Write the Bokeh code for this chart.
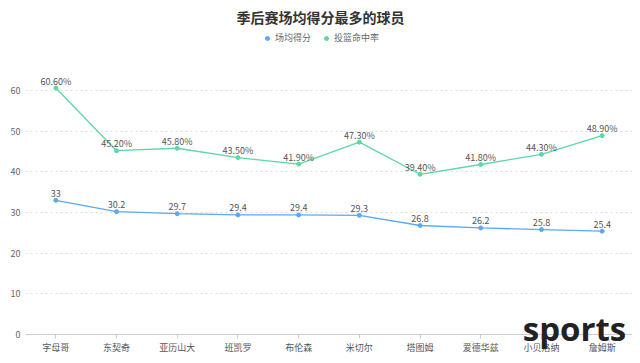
from bokeh.plotting import figure
from bokeh.models import (FactorRange, Range1d, ColumnDataSource, Label, Legend, LegendItem,
                          FixedTicker)
from bokeh.core.properties import value
from bokeh.embed import file_html
from bokeh.resources import INLINE

players = ["字母哥", "东契奇", "亚历山大", "班凯罗", "布伦森", "米切尔", "塔图姆", "爱德华兹", "小贝洛纳", "詹姆斯"]
points = [33, 30.2, 29.7, 29.4, 29.4, 29.3, 26.8, 26.2, 25.8, 25.4]
fg_pct = [60.6, 45.2, 45.8, 43.5, 41.9, 47.3, 39.4, 41.8, 44.3, 48.9]
y_ticks = [0, 10, 20, 30, 40, 50, 60]

BLUE = "#5aa9f2"
GREEN = "#5cd8a6"
FONT = "Noto Sans CJK SC"

src = ColumnDataSource(dict(
    x=players, pts=points, fg=fg_pct,
    pts_lab=["%g" % v for v in points],
    fg_lab=["%.2f%%" % v for v in fg_pct],
))

# frame spans the whole height; the x axis is pinned at y=0
p = figure(width=640, height=363, x_range=FactorRange(*players), y_range=Range1d(-7.13, 82.13),
           output_backend="svg", toolbar_location=None,
           min_border_left=25, min_border_right=8, min_border_top=0, min_border_bottom=0)
p.outline_line_color = None
p.background_fill_color = "white"

# axes
p.yaxis.ticker = FixedTicker(ticks=y_ticks)
p.yaxis.axis_line_color = None
p.yaxis.major_tick_line_color = None
p.yaxis.major_tick_out = 0
p.yaxis.major_tick_in = 0
p.yaxis.minor_tick_line_color = None
p.yaxis.major_label_text_font = FONT
p.yaxis.major_label_text_font_size = "9px"
p.yaxis.major_label_text_color = "#666666"
p.yaxis.major_label_standoff = 5

p.xaxis.fixed_location = 0
p.xaxis.axis_line_color = "#cccccc"
p.xaxis.major_tick_line_color = "#cccccc"
p.xaxis.major_tick_out = 4
p.xaxis.major_tick_in = 0
p.xaxis.major_label_text_font = FONT
p.xaxis.major_label_text_font_size = "9px"
p.xaxis.major_label_text_color = "#555555"
p.xaxis.major_label_standoff = 2

p.xgrid.grid_line_color = None
p.ygrid.grid_line_color = "#dddddd"
p.ygrid.grid_line_dash = "2 3"
p.ygrid.ticker = FixedTicker(ticks=y_ticks[1:])

# series
l1 = p.line("x", "pts", source=src, line_color=BLUE, line_width=1.3)
s1 = p.scatter("x", "pts", source=src, size=4, marker="circle", fill_color=BLUE, line_color=BLUE)
l2 = p.line("x", "fg", source=src, line_color=GREEN, line_width=1.3)
s2 = p.scatter("x", "fg", source=src, size=4, marker="circle", fill_color=GREEN, line_color=GREEN)

p.text("x", "pts", text="pts_lab", source=src, text_font=value(FONT), text_font_size="9px",
       text_color="#555555", text_align="center", text_baseline="middle", y_offset=-7)
p.text("x", "fg", text="fg_lab", source=src, text_font=value(FONT), text_font_size="9px",
       text_color="#555555", text_align="center", text_baseline="middle", y_offset=-7)

legend = Legend(items=[LegendItem(label="场均得分", renderers=[s1]),
                       LegendItem(label="投篮命中率", renderers=[s2])],
                orientation="horizontal", location=(237, 319),
                label_text_font=FONT, label_text_font_size="9px", label_text_color="#666666",
                glyph_width=10, glyph_height=10, label_height=10, label_standoff=3, spacing=10,
                padding=0, margin=0, border_line_color=None, background_fill_alpha=0)
p.add_layout(legend, "center")

p.add_layout(Label(x=295, y=347, x_units="screen", y_units="screen", text="季后赛场均得分最多的球员",
                   text_font=FONT, text_font_size="14px", text_font_style="bold",
                   text_color="#333333", text_align="center", text_baseline="middle"))
p.add_layout(Label(x=549, y=35, x_units="screen", y_units="screen", text="sports",
                   text_font="Open Sans", text_font_size="33px", text_font_style="bold",
                   text_color="#222222", text_align="center", text_baseline="middle",
                   level="overlay"))

open("out.html", "w").write(file_html(p, INLINE))
